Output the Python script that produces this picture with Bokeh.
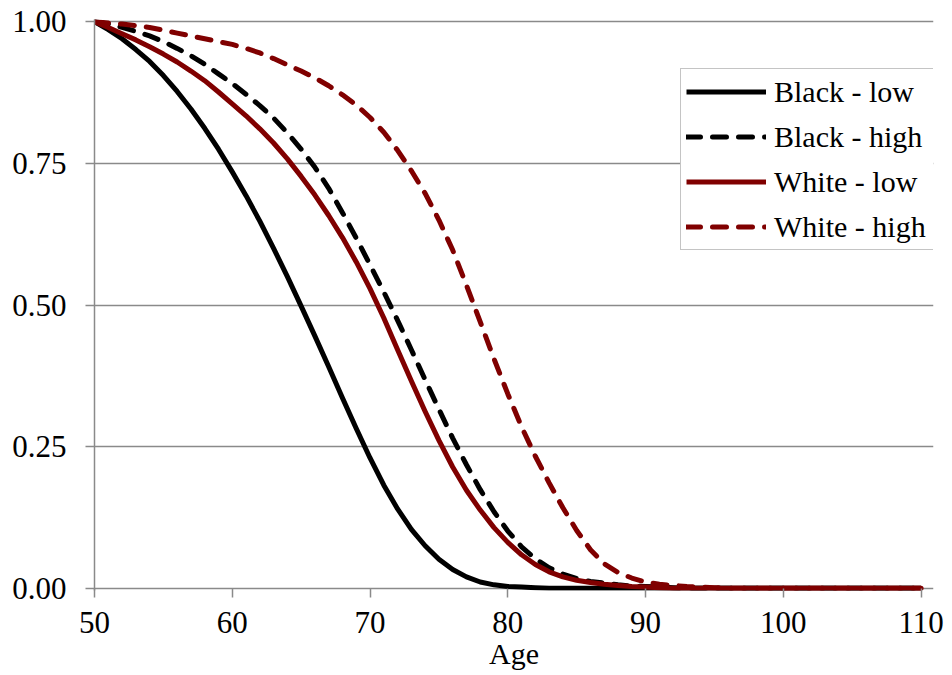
from bokeh.plotting import figure
from bokeh.models import Range1d, FixedTicker, Legend, LegendItem, PrintfTickFormatter
from bokeh.embed import file_html
from bokeh.resources import INLINE

ages = list(range(50, 111))

black_low = [1.000, 0.986, 0.970, 0.951, 0.930, 0.905, 0.877, 0.846, 0.812, 0.775,
             0.735, 0.693, 0.648, 0.600, 0.550, 0.498, 0.445, 0.391, 0.336, 0.282,
             0.230, 0.182, 0.140, 0.104, 0.075, 0.051, 0.033, 0.020, 0.011, 0.006,
             0.003, 0.002, 0.001] + [0.0] * 28

black_high = [1.000, 0.996, 0.990, 0.983, 0.975, 0.965, 0.953, 0.940, 0.925, 0.908,
              0.891, 0.872, 0.852, 0.830, 0.804, 0.775, 0.743, 0.706, 0.663, 0.618,
              0.571, 0.523, 0.473, 0.421, 0.368, 0.316, 0.265, 0.218, 0.174, 0.135,
              0.101, 0.073, 0.052, 0.036, 0.025, 0.017, 0.012, 0.009, 0.006, 0.004,
              0.003, 0.002, 0.001] + [0.0] * 18

white_low = [1.000, 0.990, 0.979, 0.968, 0.956, 0.943, 0.929, 0.913, 0.896, 0.876,
             0.855, 0.834, 0.811, 0.786, 0.758, 0.727, 0.694, 0.658, 0.619, 0.576,
             0.529, 0.477, 0.421, 0.366, 0.312, 0.261, 0.214, 0.173, 0.138, 0.107,
             0.081, 0.059, 0.042, 0.029, 0.020, 0.014, 0.010, 0.007, 0.005, 0.003,
             0.002, 0.001] + [0.0] * 19

white_high = [1.000, 0.998, 0.996, 0.993, 0.990, 0.985, 0.980, 0.975, 0.970, 0.965,
              0.960, 0.953, 0.945, 0.935, 0.924, 0.913, 0.901, 0.887, 0.871, 0.853,
              0.831, 0.805, 0.773, 0.737, 0.697, 0.650, 0.597, 0.535, 0.470, 0.405,
              0.343, 0.285, 0.233, 0.186, 0.142, 0.102, 0.068, 0.043, 0.028, 0.018,
              0.011, 0.007, 0.005, 0.003, 0.002, 0.001] + [0.0] * 15

series_labels = ["Black - low", "Black - high", "White - low", "White - high"]
x_ticks = [50, 60, 70, 80, 90, 100, 110]
y_ticks = [0.0, 0.25, 0.5, 0.75, 1.0]

FONT = "'Liberation Serif', 'Times New Roman', serif"
GRAY = "#8a8a8a"
DARKRED = "#800000"

p = figure(width=952, height=675, output_backend="svg", toolbar_location=None,
           x_range=Range1d(50, 110.9), y_range=Range1d(-0.004, 1.004),
           min_border_left=94, min_border_right=19, min_border_top=19,
           min_border_bottom=85)
p.outline_line_color = None
p.background_fill_color = "white"
p.border_fill_color = "white"

p.xgrid.visible = False
p.ygrid.ticker = FixedTicker(ticks=y_ticks)
p.ygrid.grid_line_color = GRAY
p.ygrid.grid_line_width = 1.5

p.xaxis.ticker = FixedTicker(ticks=x_ticks)
p.xaxis.formatter = PrintfTickFormatter(format="%d")
p.xaxis.axis_line_color = None
p.xaxis.major_tick_line_color = GRAY
p.xaxis.major_tick_line_width = 1.5
p.xaxis.major_tick_out = 7
p.xaxis.major_tick_in = 2
p.xaxis.minor_tick_line_color = None
p.xaxis.major_label_text_font = FONT
p.xaxis.major_label_text_font_size = "31px"
p.xaxis.major_label_text_color = "black"
p.xaxis.major_label_standoff = 14
p.xaxis.axis_label = "Age"
p.xaxis.axis_label_text_font = FONT
p.xaxis.axis_label_text_font_size = "30px"
p.xaxis.axis_label_text_font_style = "normal"
p.xaxis.axis_label_text_color = "black"
p.xaxis.axis_label_standoff = 1

p.yaxis.ticker = FixedTicker(ticks=y_ticks)
p.yaxis.formatter = PrintfTickFormatter(format="%.2f")
p.yaxis.axis_line_color = GRAY
p.yaxis.axis_line_width = 1.5
p.yaxis.major_tick_line_color = GRAY
p.yaxis.major_tick_line_width = 1.5
p.yaxis.major_tick_out = 9
p.yaxis.major_tick_in = 0
p.yaxis.minor_tick_line_color = None
p.yaxis.major_label_text_font = FONT
p.yaxis.major_label_text_font_size = "31px"
p.yaxis.major_label_text_color = "black"
p.yaxis.major_label_standoff = 19

DASH = "14 12"
LW = 5
r1 = p.line(ages, black_low, line_color="black", line_width=LW, line_join="round")
r2 = p.line(ages, black_high, line_color="black", line_width=LW, line_dash=DASH,
            line_cap="round", line_join="round")
r3 = p.line(ages, white_low, line_color=DARKRED, line_width=LW, line_join="round")
r4 = p.line(ages, white_high, line_color=DARKRED, line_width=LW, line_dash=DASH,
            line_cap="round", line_join="round")

items = [LegendItem(label=lab, renderers=[r]) for lab, r in zip(series_labels, [r1, r2, r3, r4])]
legend = Legend(items=items, location=(586, 340), margin=0,
                label_text_font=FONT, label_text_font_size="30px",
                label_text_color="black",
                glyph_width=80, glyph_height=35, label_height=35,
                spacing=10, padding=5, label_standoff=8, label_width=163,
                border_line_color=GRAY, border_line_width=1.5,
                background_fill_color="white", background_fill_alpha=1.0)
p.add_layout(legend)

open("out.html", "w").write(file_html(p, INLINE))
